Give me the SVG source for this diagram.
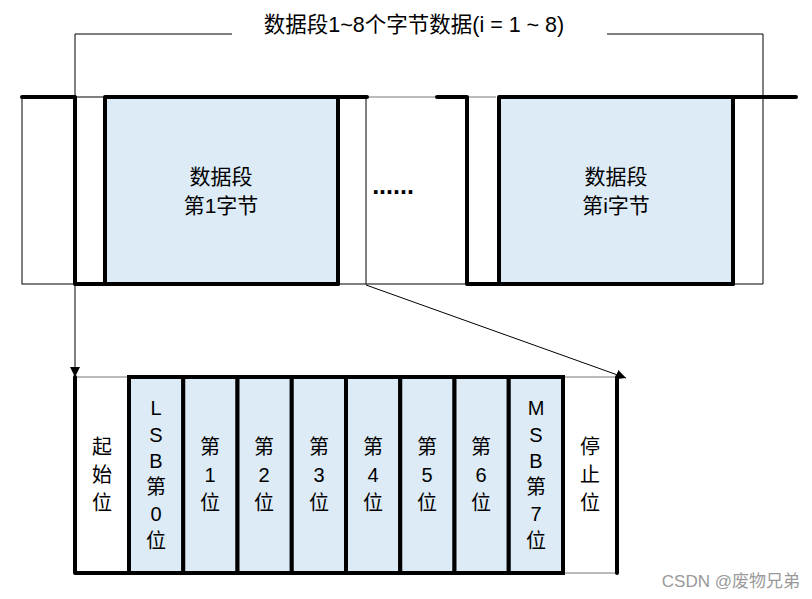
<svg xmlns="http://www.w3.org/2000/svg" width="812" height="599" viewBox="0 0 812 599">
<defs>
<style>
.t{font-family:"Liberation Sans","Noto Sans CJK SC",sans-serif;font-size:20px;fill:#000;text-anchor:middle}
.b{font-size:21px}
.h{font-size:21.5px}
.thin{fill:none;stroke:#000;stroke-width:1}
.gthin{fill:none;stroke:#777;stroke-width:1}
.thick{fill:none;stroke:#000;stroke-width:4;stroke-linecap:round;stroke-linejoin:round}
.cell{fill:#DDEBF7;stroke:#000;stroke-width:4}
.box{fill:#DDEBF7;stroke:#000;stroke-width:4;stroke-linejoin:round}
</style>
<marker id="ah" viewBox="0 0 10 10" refX="10" refY="5" markerWidth="10" markerHeight="10" markerUnits="userSpaceOnUse" orient="auto">
<path d="M0,0L10,5L0,10z" fill="#000"/>
</marker>
</defs>
<rect width="812" height="599" fill="#fff"/>
<g id="frames">
<rect x="22" y="97" width="344" height="187" class="thin"/>
<line x1="366" y1="97" x2="496" y2="97" class="gthin"/>
<line x1="366" y1="284" x2="763" y2="284" class="thin"/>
</g>
<g id="byte1">
<rect x="105" y="97" width="233" height="187" class="box"/>
<path d="M22,97H75V284H338M338,97H367" class="thick"/>
<text class="t b" x="221" y="184">数据段</text>
<text class="t b" x="221" y="213">第1字节</text>
</g>
<g id="dots"><text class="t" x="393" y="194" style="font-size:25px;font-weight:bold">......</text></g>
<g id="bytei">
<rect x="499" y="97" width="234" height="187" class="box"/>
<path d="M437,97H467V284H733M733,97H796" class="thick"/>
<text class="t b" x="616" y="184">数据段</text>
<text class="t b" x="616" y="213">第i字节</text>
</g>
<g id="title"><text class="t h" x="414" y="32">数据段1~8个字节数据(i = 1 ~ 8)</text></g>
<g id="connectors">
<path d="M232,34H75V377" class="thin" marker-end="url(#ah)"/>
<path d="M607,34H763V284" class="thin"/>
<line x1="366" y1="285" x2="626" y2="378" class="thin" marker-end="url(#ah)"/>
</g>
<g id="bits">
<line x1="75" y1="377" x2="129" y2="377" class="gthin"/>
<line x1="563" y1="377" x2="617" y2="377" class="gthin"/>
<line x1="563" y1="573" x2="617" y2="573" class="gthin"/>
<path d="M75,377V573H129" class="thick"/>
<line x1="617" y1="377" x2="617" y2="573" class="thick"/>
<rect x="129" y="377" width="54.25" height="196" class="cell"/>
<rect x="183.25" y="377" width="54.25" height="196" class="cell"/>
<rect x="237.5" y="377" width="54.25" height="196" class="cell"/>
<rect x="291.75" y="377" width="54.25" height="196" class="cell"/>
<rect x="346" y="377" width="54.25" height="196" class="cell"/>
<rect x="400.25" y="377" width="54.25" height="196" class="cell"/>
<rect x="454.5" y="377" width="54.25" height="196" class="cell"/>
<rect x="508.75" y="377" width="54.25" height="196" class="cell"/>
</g>
<g id="labels">
<text class="t" x="102" y="454">起</text><text class="t" x="102" y="482">始</text><text class="t" x="102" y="510">位</text>
<text class="t" x="156" y="415">L</text><text class="t" x="156" y="442">S</text><text class="t" x="156" y="468">B</text><text class="t" x="156" y="494">第</text><text class="t" x="156" y="521">0</text><text class="t" x="156" y="548">位</text>
<text class="t" x="210" y="454">第</text><text class="t" x="210" y="482">1</text><text class="t" x="210" y="510">位</text>
<text class="t" x="264" y="454">第</text><text class="t" x="264" y="482">2</text><text class="t" x="264" y="510">位</text>
<text class="t" x="319" y="454">第</text><text class="t" x="319" y="482">3</text><text class="t" x="319" y="510">位</text>
<text class="t" x="373" y="454">第</text><text class="t" x="373" y="482">4</text><text class="t" x="373" y="510">位</text>
<text class="t" x="427" y="454">第</text><text class="t" x="427" y="482">5</text><text class="t" x="427" y="510">位</text>
<text class="t" x="481" y="454">第</text><text class="t" x="481" y="482">6</text><text class="t" x="481" y="510">位</text>
<text class="t" x="536" y="415">M</text><text class="t" x="536" y="442">S</text><text class="t" x="536" y="468">B</text><text class="t" x="536" y="494">第</text><text class="t" x="536" y="521">7</text><text class="t" x="536" y="548">位</text>
<text class="t" x="590" y="454">停</text><text class="t" x="590" y="482">止</text><text class="t" x="590" y="510">位</text>
</g>
<g id="watermark"><text x="800" y="587" style="font-family:'Liberation Sans','Noto Sans CJK SC',sans-serif;font-size:17px;fill:#999;text-anchor:end">CSDN @废物兄弟</text></g>
</svg>
